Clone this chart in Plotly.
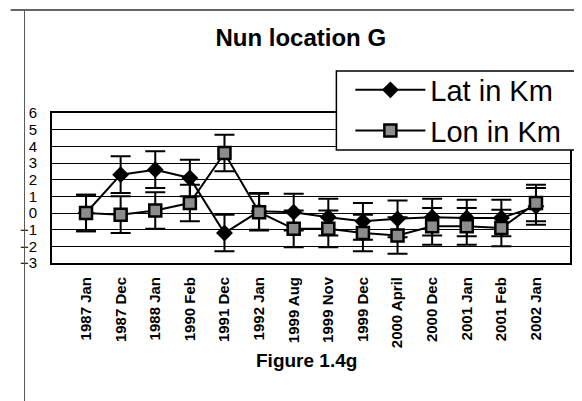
import plotly.graph_objects as go

categories = ["1987 Jan", "1987 Dec", "1988 Jan", "1990 Feb", "1991 Dec", "1992 Jan",
              "1999 Aug", "1999 Nov", "1999 Dec", "2000 April", "2000 Dec",
              "2001 Jan", "2001 Feb", "2002 Jan"]
lat_km = [0.0, 2.3, 2.6, 2.1, -1.2, 0.1, 0.05, -0.25, -0.5, -0.35, -0.25, -0.3, -0.3, 0.4]
lon_km = [0.0, -0.1, 0.15, 0.6, 3.6, 0.05, -0.95, -0.95, -1.2, -1.35, -0.8, -0.8, -0.9, 0.6]
lat_err = [1.1, 1.1, 1.1, 1.1, 1.1, 1.1, 1.1, 1.1, 1.1, 1.1, 1.1, 1.1, 1.1, 1.1]
lon_err = [1.1, 1.1, 1.1, 1.1, 1.1, 1.1, 1.1, 1.1, 1.1, 1.1, 1.1, 1.1, 1.1, 1.1]
y_ticks = [-3, -2, -1, 0, 1, 2, 3, 4, 5, 6]

fig = go.Figure()
fig.add_trace(go.Scatter(
    x=categories, y=lat_km, name="Lat in Km", mode="lines+markers",
    line=dict(color="black", width=2),
    marker=dict(symbol="diamond", size=13, color="black"),
    error_y=dict(type="data", array=lat_err, visible=True, color="black", thickness=2, width=10),
))
fig.add_trace(go.Scatter(
    x=categories, y=lon_km, name="Lon in Km", mode="lines+markers",
    line=dict(color="black", width=2),
    marker=dict(symbol="square", size=12, color="#8c8c8c", line=dict(color="black", width=2.5)),
    error_y=dict(type="data", array=lon_err, visible=True, color="black", thickness=2, width=10),
))

fig.update_layout(
    width=582, height=401,
    margin=dict(l=38, r=20, t=105, b=146),
    paper_bgcolor="white", plot_bgcolor="white",
    font=dict(family="Liberation Sans", color="black"),
    title=dict(text="<b>Nun location G</b>", x=0.503, xanchor="center", y=0.925, yanchor="middle",
               font=dict(size=24, family="Liberation Sans", color="black")),
    showlegend=True,
    legend=dict(x=0.576, y=1.0167, xanchor="left", yanchor="middle",
                bgcolor="rgba(0,0,0,0)", borderwidth=0,
                font=dict(size=29, family="Liberation Sans", color="black"),
                itemwidth=70, tracegroupgap=0),
    xaxis=dict(type="category", categoryorder="array", categoryarray=categories,
               tickangle=-90, tickfont=dict(size=15, family="Liberation Sans", weight="bold"),
               showgrid=False, showline=True, linecolor="black", linewidth=2, mirror=True,
               ticks="", ticklabelstandoff=6),
    yaxis=dict(range=[-3, 6], tickmode="array", tickvals=y_ticks,
               tickfont=dict(size=15, family="Liberation Sans"),
               showgrid=True, gridcolor="black", gridwidth=1.2,
               showline=True, linecolor="black", linewidth=2, mirror=True,
               zeroline=False, ticks="", ticklabelstandoff=10),
)

# legend frame
fig.add_shape(type="rect", xref="paper", yref="paper", x0=0.549, x1=1.019, y0=0.753, y1=1.28,
              fillcolor="white", line=dict(color="black", width=1.5), layer="above")

fig.add_annotation(text="<b>Figure 1.4g</b>", xref="paper", yref="paper",
                   x=0.492, y=-0.733, showarrow=False,
                   font=dict(size=19, family="Liberation Sans", color="black"))
# scanned page frame
fig.add_shape(type="line", xref="paper", yref="paper", x0=-0.08, x1=1.05, y0=1.687, y1=1.687,
              line=dict(color="#333", width=1.5))
fig.add_shape(type="line", xref="paper", yref="paper", x0=-0.053, x1=-0.053, y0=-0.97, y1=1.687,
              line=dict(color="#555", width=1))

fig.write_html("out.html")
